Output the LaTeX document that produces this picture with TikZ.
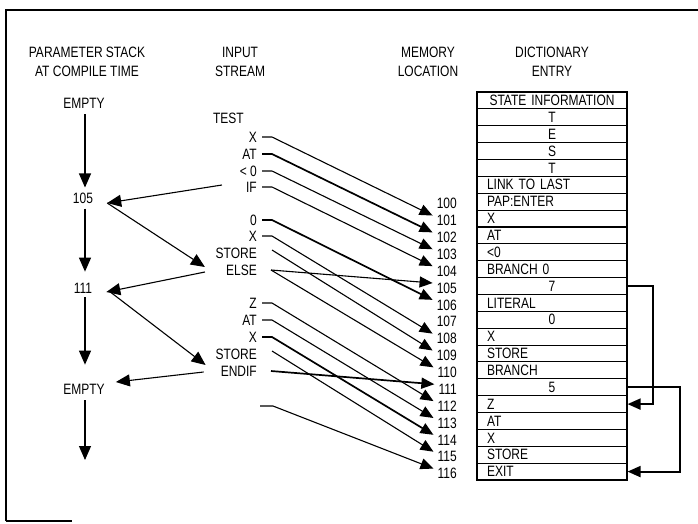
\documentclass[tikz,border=0pt]{standalone}
\usepackage{fontspec}
\setmainfont{Liberation Sans}[FakeStretch=0.8]
\usetikzlibrary{arrows.meta}
\begin{document}
\begin{tikzpicture}[x=1pt,y=-1pt,
  lbl/.style={font=\fontsize{15}{19}\selectfont, inner sep=1pt},
  hdr/.style={lbl, align=center},
  word/.style={lbl, anchor=east},
  loc/.style={lbl, anchor=east},
  cell/.style={draw, line width=1.1pt, minimum height=16.87pt, text width=130pt,
    inner xsep=10pt, inner ysep=0pt, font=\fontsize{15}{16}\selectfont},
  cl/.style={cell, align=left},
  cc/.style={cell, align=center},
  feed/.style={line width=1.1pt, -{Triangle[length=13pt,width=11pt]}},
  heavy/.style={line width=1.7pt},
  stk/.style={line width=1.1pt, -{Triangle[length=14pt,width=12pt]}},
  br/.style={line width=1.9pt, -{Triangle[length=13pt,width=11pt]}},
  frame/.style={line width=2.6pt}
]
\useasboundingbox (0,0) rectangle (698,523);

% frame
\draw[frame] (6,521) -- (6,10) -- (698,10);
\draw[frame] (6,521) -- (72,521);

% headers
\node[hdr] (h1) at (87,62) {PARAMETER STACK\\AT COMPILE TIME};
\node[hdr] (h2) at (240,62) {INPUT\\STREAM};
\node[hdr] (h3) at (428,62) {MEMORY\\LOCATION};
\node[hdr] (h4) at (552,62) {DICTIONARY\\ENTRY};

% dictionary rows
\foreach \i/\t in {0/STATE INFORMATION, 1/T, 2/E, 3/S, 4/T, 11/7, 13/0, 17/5}
  \node[cc] (r\i) at (552, {92+16.87*(\i+0.5)}) {\t};
\foreach \i/\t in {5/LINK TO LAST, 6/PAP:ENTER, 7/X, 8/AT, 9/<0, 10/BRANCH 0,
    12/LITERAL, 14/X, 15/STORE, 16/BRANCH, 18/Z, 19/AT, 20/X, 21/STORE, 22/EXIT}
  \node[cl] (r\i) at (552, {92+16.87*(\i+0.5)}) {\t};

% memory locations
\foreach \n in {100,...,116} {
  \node[loc] (m\n) at (458, {92+16.87*(\n-100+6.5)+2}) {\n};
  \coordinate (t\n) at ([xshift=-3pt,yshift=5pt]m\n.west);
}

% input stream
\node[word] (wTEST) at (245,118) {TEST};
\node[word] (wX1) at (258,137) {X};
\node[word] (wAT1) at (258,154) {AT};
\node[word] (wLT) at (258,171) {< 0};
\node[word] (wIF) at (258,187) {IF};
\node[word] (w0) at (258,220) {0};
\node[word] (wX2) at (258,236) {X};
\node[word] (wST1) at (258,253) {STORE};
\node[word] (wELSE) at (258,270) {ELSE};
\node[word] (wZ) at (258,303) {Z};
\node[word] (wAT2) at (258,320) {AT};
\node[word] (wX3) at (258,337) {X};
\node[word] (wST2) at (258,354) {STORE};
\node[word] (wENDIF) at (258,371) {ENDIF};
\coordinate (blank) at (260,406);

% input to memory
\draw[feed] ([xshift=4pt]wX1.east) -- ([xshift=14pt]wX1.east) -- (t101);
\draw[feed,heavy] ([xshift=4pt]wAT1.east) -- ([xshift=14pt]wAT1.east) -- (t102);
\draw[feed] ([xshift=4pt]wLT.east) -- ([xshift=14pt]wLT.east) -- (t103);
\draw[feed] ([xshift=4pt]wIF.east) -- ([xshift=14pt]wIF.east) -- (t104);
\draw[feed,heavy] ([xshift=4pt]w0.east) -- ([xshift=14pt]w0.east) -- (t106);
\draw[feed] ([xshift=4pt]wX2.east) -- ([xshift=14pt]wX2.east) -- (t108);
\draw[feed] ([xshift=14pt,yshift=3pt]wST1.east) -- (t109);
\draw[feed] ([xshift=13pt]wELSE.east) -- (t105);
\draw[feed] ([xshift=13pt]wELSE.east) -- (t110);
\draw[feed] ([xshift=4pt]wZ.east) -- ([xshift=14pt]wZ.east) -- (t112);
\draw[feed] ([xshift=4pt]wAT2.east) -- ([xshift=14pt]wAT2.east) -- (t113);
\draw[feed,heavy] ([xshift=4pt]wX3.east) -- ([xshift=14pt]wX3.east) -- (t114);
\draw[feed] ([xshift=14pt,yshift=3pt]wST2.east) -- (t115);
\draw[feed,heavy] ([xshift=13pt]wENDIF.east) -- (t111);
\draw[feed] (blank) -- ([xshift=13pt]blank) -- (t116);

% parameter stack
\node[lbl] (e1) at (84,103) {EMPTY};
\node[lbl] (n105) at (83,198) {105};
\node[lbl] (n111) at (83,288) {111};
\node[lbl] (e2) at (84,389) {EMPTY};
\coordinate (bottom) at (85,460);

\draw[stk] ([xshift=1pt,yshift=-5pt]e1.south) -- ([xshift=2pt,yshift=4pt]n105.north);
\draw[stk] ([xshift=2pt,yshift=-4pt]n105.south) -- ([xshift=2pt,yshift=10pt]n111.north);
\draw[stk] ([xshift=2pt,yshift=-3pt]n111.south) -- ([xshift=1pt,yshift=18pt]e2.north);
\draw[stk] ([xshift=1pt,yshift=-5pt]e2.south) -- (bottom);

\coordinate (p105) at ([xshift=13pt,yshift=-5pt]n105.east);
\coordinate (p111) at ([xshift=13pt,yshift=-4pt]n111.east);
\draw[stk] ([xshift=-23pt,yshift=2pt]wIF.west) -- (p105);
\draw[stk] (p105) -- ([xshift=-20pt,yshift=3pt]wELSE.west);
\draw[stk] ([xshift=-20pt,yshift=-2pt]wELSE.west) -- (p111);
\draw[stk] ([xshift=4pt]p111) -- ([xshift=-14pt,yshift=6pt]wENDIF.west);
\draw[stk] ([xshift=-16pt,yshift=-1pt]wENDIF.west) -- ([xshift=10pt,yshift=7pt]e2.east);

% branch offsets
\draw[br] (r11.east) -- ++(25,0) |- (r18.east);
\draw[br] (r17.east) -- ++(52,0) |- (r22.east);
\end{tikzpicture}
\end{document}
